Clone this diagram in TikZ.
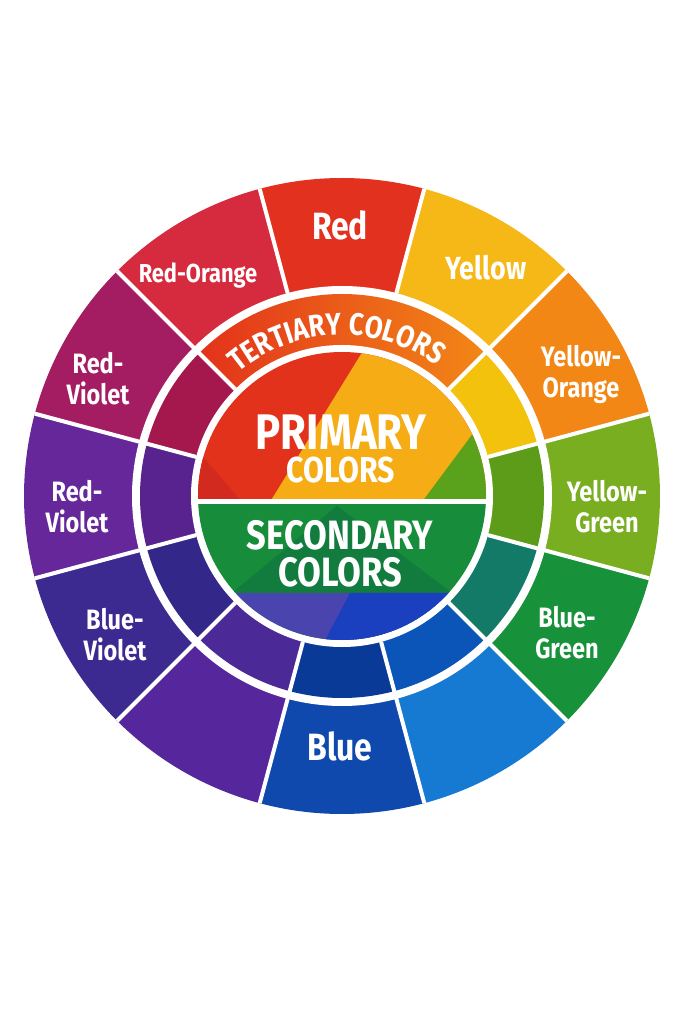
\documentclass[tikz,border=0pt]{standalone}
\usepackage{fontspec}
\newfontfamily\wheelfont{Fira Sans}[FakeStretch=0.84]
\usetikzlibrary{decorations.text}
\definecolor{oRed}{HTML}{E2311F}
\definecolor{oYellow}{HTML}{F6B816}
\definecolor{oYelOr}{HTML}{F28716}
\definecolor{oYelGr}{HTML}{78AE1F}
\definecolor{oBlGr}{HTML}{17913A}
\definecolor{oLtBlue}{HTML}{1679D2}
\definecolor{oBlue}{HTML}{0F49AE}
\definecolor{oPurple}{HTML}{55269C}
\definecolor{oBlViol}{HTML}{3D2A91}
\definecolor{oRedViolA}{HTML}{66279A}
\definecolor{oRedViolB}{HTML}{A41C62}
\definecolor{oRedOr}{HTML}{D62A3E}
\definecolor{mYellow}{HTML}{F3C20C}
\definecolor{mYelGr}{HTML}{5C9C18}
\definecolor{mTeal}{HTML}{127A66}
\definecolor{mBlue}{HTML}{0C55B8}
\definecolor{mDkBlue}{HTML}{0A3A98}
\definecolor{mPurple}{HTML}{4B2A98}
\definecolor{mIndigo}{HTML}{33288A}
\definecolor{mViolet}{HTML}{58238F}
\definecolor{mCrimson}{HTML}{A5184E}
\definecolor{cRed}{HTML}{E3321B}
\definecolor{cDkRed}{HTML}{D22A1E}
\definecolor{cYellow}{HTML}{F6AC14}
\definecolor{cGreen}{HTML}{5AA21C}
\definecolor{cSec}{HTML}{178C3A}
\definecolor{cDkSec}{HTML}{117C3E}
\definecolor{cViol}{HTML}{4A45AE}
\definecolor{cBlue}{HTML}{1A3FBF}

\begin{document}
\begin{tikzpicture}[x=1pt,y=1pt,
  lbl/.style={text=white,inner sep=0pt,align=center,anchor=base,
    font=\wheelfont\bfseries\fontsize{28}{31}\selectfont},
  sep/.style={draw=white,line width=4pt}]
\fill[white] (-342,-528) rectangle (341,496);
\useasboundingbox (-342,-528) rectangle (341,496);
% outer ring
\fill[oRed] (0,0) -- (75:318pt) arc[start angle=75,end angle=105,radius=318pt] -- cycle;
\fill[oYellow] (0,0) -- (45:318pt) arc[start angle=45,end angle=75,radius=318pt] -- cycle;
\fill[oYelOr] (0,0) -- (15:318pt) arc[start angle=15,end angle=45,radius=318pt] -- cycle;
\fill[oYelGr] (0,0) -- (-15:318pt) arc[start angle=-15,end angle=15,radius=318pt] -- cycle;
\fill[oBlGr] (0,0) -- (-45:318pt) arc[start angle=-45,end angle=-15,radius=318pt] -- cycle;
\fill[oLtBlue] (0,0) -- (-75:318pt) arc[start angle=-75,end angle=-45,radius=318pt] -- cycle;
\fill[oBlue] (0,0) -- (-105:318pt) arc[start angle=-105,end angle=-75,radius=318pt] -- cycle;
\fill[oPurple] (0,0) -- (-135:318pt) arc[start angle=-135,end angle=-105,radius=318pt] -- cycle;
\fill[oBlViol] (0,0) -- (-165:318pt) arc[start angle=-165,end angle=-135,radius=318pt] -- cycle;
\fill[oRedViolA] (0,0) -- (165:318pt) arc[start angle=165,end angle=195,radius=318pt] -- cycle;
\fill[oRedViolB] (0,0) -- (135:318pt) arc[start angle=135,end angle=165,radius=318pt] -- cycle;
\fill[oRedOr] (0,0) -- (105:318pt) arc[start angle=105,end angle=135,radius=318pt] -- cycle;
\fill[white] (0,0) circle (210pt);
% middle ring
\shade[left color=cRed,right color=oYelOr] (0,0) -- (45:202pt) arc[start angle=45,end angle=135,radius=202pt] -- cycle;
\fill[mYellow] (0,0) -- (15:202pt) arc[start angle=15,end angle=45,radius=202pt] -- cycle;
\fill[mYelGr] (0,0) -- (-15:202pt) arc[start angle=-15,end angle=15,radius=202pt] -- cycle;
\fill[mTeal] (0,0) -- (-45:202pt) arc[start angle=-45,end angle=-15,radius=202pt] -- cycle;
\fill[mBlue] (0,0) -- (-75:202pt) arc[start angle=-75,end angle=-45,radius=202pt] -- cycle;
\fill[mDkBlue] (0,0) -- (-105:202pt) arc[start angle=-105,end angle=-75,radius=202pt] -- cycle;
\fill[mPurple] (0,0) -- (-135:202pt) arc[start angle=-135,end angle=-105,radius=202pt] -- cycle;
\fill[mIndigo] (0,0) -- (-165:202pt) arc[start angle=-165,end angle=-135,radius=202pt] -- cycle;
\fill[mViolet] (0,0) -- (165:202pt) arc[start angle=165,end angle=195,radius=202pt] -- cycle;
\fill[mCrimson] (0,0) -- (135:202pt) arc[start angle=135,end angle=165,radius=202pt] -- cycle;
\fill[white] (0,0) circle (151pt);
% centre
\begin{scope}
\clip (0,0) circle (144pt);
\fill[cRed] (-150,-6) rectangle (150,150);
\fill[cDkRed] (-150,52) -- (-100,-6) -- (-150,-6) -- cycle;
\fill[cYellow] (24,150) -- (150,150) -- (150,-6) -- (-72,-6) -- cycle;
\fill[cGreen] (196,150) -- (200,150) -- (200,-6) -- (80,-6) -- cycle;
\fill[cSec] (-150,-150) rectangle (150,-6);
\fill[cDkSec] (-110,-97) -- (-5,-10) -- (110,-97) -- cycle;
\fill[cViol] (-150,-150) rectangle (150,-97);
\fill[cBlue] (8,-97) -- (150,-97) -- (150,-150) -- (-20,-150) -- cycle;
\end{scope}
\draw[draw=white,line width=5pt] (-146,-6) -- (146,-6);
% separators
\draw[sep] (75:210pt) -- (75:318pt);
\draw[sep] (105:210pt) -- (105:318pt);
\draw[sep] (45:151pt) -- (45:318pt);
\draw[sep] (15:151pt) -- (15:318pt);
\draw[sep] (-15:151pt) -- (-15:318pt);
\draw[sep] (-45:151pt) -- (-45:318pt);
\draw[sep] (-75:151pt) -- (-75:318pt);
\draw[sep] (-105:151pt) -- (-105:318pt);
\draw[sep] (-135:151pt) -- (-135:318pt);
\draw[sep] (-165:151pt) -- (-165:318pt);
\draw[sep] (165:151pt) -- (165:318pt);
\draw[sep] (135:151pt) -- (135:318pt);
% labels
\node[lbl,font=\wheelfont\bfseries\fontsize{38}{40}\selectfont] (red) at (-2,256) {Red};
\node[lbl,font=\wheelfont\bfseries\fontsize{32}{34}\selectfont] (yellow) at (144,216) {Yellow};
\node[lbl,font=\wheelfont\bfseries\fontsize{26}{28}\selectfont] (redorange) at (-144,213) {Red-Orange};
\node[lbl] (yelorange) at (239,98) {Yellow-\\Orange};
\node[lbl] (yelgreen) at (265,-37) {Yellow-\\Green};
\node[lbl] (bluegreen) at (225,-162) {Blue-\\Green};
\node[lbl,font=\wheelfont\bfseries\fontsize{38}{40}\selectfont] (blue) at (-2,-264) {Blue};
\node[lbl] (blueviolet) at (-227,-164) {Blue-\\Violet};
\node[lbl] (redvioletb) at (-265,-37) {Red-\\Violet};
\node[lbl] (redvioleta) at (-244,91) {Red-\\Violet};
\node[lbl,font=\wheelfont\bfseries\fontsize{50}{52}\selectfont] (primary) at (-1,46) {PRIMARY};
\node[lbl,font=\wheelfont\bfseries\fontsize{36}{38}\selectfont] (primcol) at (-1,13) {COLORS};
\node[lbl,font=\wheelfont\bfseries\fontsize{41}{43}\selectfont] (secondary) at (-2,-54) {SECONDARY};
\node[lbl,font=\wheelfont\bfseries\fontsize{41}{43}\selectfont] (seccol) at (-2,-91) {COLORS};
\path[decorate,decoration={text along path,text align=center,text color=white,
  text={|\wheelfont\bfseries\fontsize{31}{31}\selectfont|TERTIARY COLORS}}]
  (137:161pt) arc[start angle=137,end angle=47,radius=161pt];
\end{tikzpicture}
\end{document}
